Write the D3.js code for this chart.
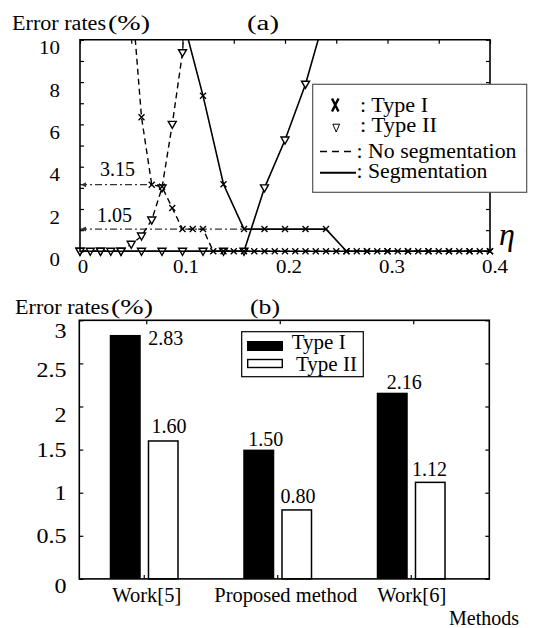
<!DOCTYPE html>
<html><head><meta charset="utf-8">
<script src="https://cdn.jsdelivr.net/npm/d3@7"></script>
<style>
body{margin:0;background:#fff}
text{font-family:"Liberation Serif","Times New Roman",serif;fill:#000}
</style>
</head><body>
<svg id="c" width="534" height="628"></svg>
<script>
// ---------------- data : panel (a) ----------------
const etaNoSegI  = [0.05,0.06,0.07,0.08,0.09,0.10,0.11,0.12,0.13,0.14,0.15,0.16,0.17,0.18,0.19,0.20,0.21,0.22,0.23,0.24,0.25,0.26,0.27,0.28,0.29,0.30,0.31,0.32,0.33,0.34,0.35,0.36,0.37,0.38,0.39,0.40];
const rateNoSegI = [12.4,6.34,3.15,3.05,2.05,1.05,1.05,1.05,0,0,0,0,0,0,0,0,0,0,0,0,0,0,0,0,0,0,0,0,0,0,0,0,0,0,0,0];
const etaNoSegII  = [0,0.01,0.02,0.03,0.04,0.05,0.06,0.07,0.08,0.09,0.10,0.11];
const rateNoSegII = [0,0,0,0,0,0.33,0.72,1.48,3.0,6.0,9.39,17];
const etaSegI  = [0.10,0.12,0.14,0.16,0.18,0.20,0.22,0.24,0.26,0.28,0.30,0.32,0.34,0.36,0.38,0.40];
const rateSegI = [11.05,7.36,3.17,1.05,1.05,1.05,1.05,1.05,0,0,0,0,0,0,0,0];
const etaSegII  = [0,0.02,0.04,0.06,0.08,0.10,0.12,0.14,0.16,0.18,0.20,0.22,0.24];
const rateSegII = [0,0,0,0,0,0,0,0,0,3.0,5.26,7.9,11.3];
const refLevels = [3.15, 1.05];
const refEnds   = [0.07, 0.16];
const refLabels = ["3.15", "1.05"];
const xTicksA = [0, 0.1, 0.2, 0.3, 0.4];
const xTickLabelsA = ["0", "0.1", "0.2", "0.3", "0.4"];
const yTicksA = [0, 2, 4, 6, 8, 10];
const xMinorA = [0,0.05,0.1,0.15,0.2,0.25,0.3,0.35,0.4];
const yMinorA = [0,1,2,3,4,5,6,7,8,9,10];
const legendA = [": Type I", ": Type II", ": No segmentation", ": Segmentation"];

// ---------------- data : panel (b) ----------------
const methods = ["Work[5]", "Proposed method", "Work[6]"];
const typeI  = [2.83, 1.50, 2.16];
const typeII = [1.60, 0.80, 1.12];
const yTicksB = [0, 0.5, 1, 1.5, 2, 2.5, 3];
const yTickLabelsB = ["0", "0.5", "1", "1.5", "2", "2.5", "3"];
const legendB = ["Type I", "Type II"];

// ---------------- helpers ----------------
const svg = d3.select('#c');
function label(g, s, x, y, o = {}) {
  const t = g.append('text')
    .attr('transform', `translate(${x},${y}) scale(${o.sx || 1},1)`)
    .attr('text-anchor', o.anchor || 'start')
    .style('font-size', (o.size || 20) + 'px')
    .text(s);
  if (o.italic) t.style('font-style', 'italic');
  if (o.len) t.attr('textLength', o.len).attr('lengthAdjust', 'spacingAndGlyphs');
  return t;
}
const crossPath = 'M-3,-3L3,3M-3,3L3,-3';
const triPath = 'M-4,-3L4,-3L0,4Z';

// ================= panel (a) =================
const A = {l: 80, r: 490, t: 39.8, b: 251.3};
const xA = d3.scaleLinear([0, 0.4], [A.l, A.r]);
const yA = d3.scaleLinear([0, 10], [A.b, A.t]);
const gA = svg.append('g');

svg.append('defs').append('clipPath').attr('id', 'clipA')
  .append('rect').attr('x', A.l - 6).attr('y', A.t).attr('width', A.r - A.l + 12).attr('height', A.b - A.t + 8);

// titles
label(gA, 'Error rates', 12, 29.5, {size: 20, len: 94});
label(gA, '(%)', 108, 29.5, {size: 20, len: 42});
label(gA, '(a)', 247, 29.5, {size: 20, len: 32});

// reference (dash-dot) lines
const refG = gA.append('g');
refLevels.forEach((v, i) => {
  refG.append('line')
    .attr('x1', A.l).attr('x2', xA(refEnds[i]))
    .attr('y1', yA(v)).attr('y2', yA(v))
    .attr('stroke', '#333').attr('stroke-width', 1.2)
    .attr('stroke-dasharray', '7,3,2,3');
  refG.append('path')
    .attr('d', `M${A.l + 1},${yA(v)}L${A.l + 6},${yA(v) - 2.5}L${A.l + 6},${yA(v) + 2.5}Z`)
    .attr('fill', '#333');
});
label(gA, refLabels[0], A.l + 20, yA(refLevels[0]) - 9, {size: 20});
label(gA, refLabels[1], A.l + 17, yA(refLevels[1]) - 7.5, {size: 20});

// series
const seriesA = [
  {eta: etaNoSegII, v: rateNoSegII, dashed: true,  type: 'II'},
  {eta: etaSegII,   v: rateSegII,   dashed: false, type: 'II'},
  {eta: etaNoSegI,  v: rateNoSegI,  dashed: true,  type: 'I'},
  {eta: etaSegI,    v: rateSegI,    dashed: false, type: 'I'}
];
const plotA = gA.append('g').attr('clip-path', 'url(#clipA)');
const lineA = d3.line().x(d => xA(d[0])).y(d => yA(d[1]));
seriesA.forEach(s => {
  const pts = s.eta.map((e, i) => [e, s.v[i]]);
  plotA.append('path').attr('d', lineA(pts))
    .attr('fill', 'none').attr('stroke', '#000')
    .attr('stroke-width', s.dashed ? 1.4 : 1.6)
    .attr('stroke-dasharray', s.dashed ? '6,4' : null);
});
seriesA.forEach(s => {
  const pts = s.eta.map((e, i) => [e, s.v[i]]);
  plotA.append('g').selectAll('path').data(pts).join('path')
    .attr('transform', d => `translate(${xA(d[0])},${yA(d[1])})`)
    .attr('d', s.type === 'I' ? crossPath : triPath)
    .attr('fill', s.type === 'I' ? 'none' : '#fff')
    .attr('stroke', '#000')
    .attr('stroke-width', s.type === 'I' ? 1.4 : 1.4);
});

// axes / ticks
gA.append('g').attr('transform', `translate(${A.l},0)`)
  .call(d3.axisLeft(yA).tickValues(yMinorA).tickSize(-4).tickFormat(''))
  .call(g => { g.select('.domain').remove(); g.selectAll('line').attr('stroke-width', 1.2); });
gA.append('g').attr('transform', `translate(${A.r},0)`)
  .call(d3.axisRight(yA).tickValues(yMinorA).tickSize(-4).tickFormat(''))
  .call(g => { g.select('.domain').remove(); g.selectAll('line').attr('stroke-width', 1.2); });
gA.append('g').attr('transform', `translate(0,${A.t})`)
  .call(d3.axisTop(xA).tickValues(xMinorA).tickSize(-4).tickFormat(''))
  .call(g => { g.select('.domain').remove(); g.selectAll('line').attr('stroke-width', 1.2); });
gA.append('path')
  .attr('d', `M${A.l},${A.b}V${A.t}H${A.r}V${A.b}Z`)
  .attr('fill', 'none').attr('stroke', '#000').attr('stroke-width', 1.6);

yTicksA.forEach(v => label(gA, String(v), A.l - 20, yA(v) + 14.5, {size: 19, anchor: 'end', sx: 1.1}));
xTicksA.forEach((v, i) => label(gA, xTickLabelsA[i], xA(v) + 3 + v * 5, A.b + 22, {size: 19, anchor: 'middle', sx: 1.1}));
label(gA, 'η', 499, 245, {size: 32, italic: true});

// legend (a)
const LA = gA.append('g');
LA.append('rect').attr('x', 312.7).attr('y', 84.3).attr('width', 214).attr('height', 108)
  .attr('fill', '#fff').attr('stroke', '#555').attr('stroke-width', 1.2);
LA.append('path').attr('d', 'M332,98.5L338.5,111.5M338.5,98.5L332,111.5')
  .attr('stroke', '#000').attr('stroke-width', 2.4);
LA.append('path').attr('d', 'M332.8,124.2L339.6,124.2L336.2,132Z')
  .attr('fill', '#fff').attr('stroke', '#000').attr('stroke-width', 1);
LA.append('line').attr('x1', 320).attr('x2', 356).attr('y1', 151.5).attr('y2', 151.5)
  .attr('stroke', '#000').attr('stroke-width', 1.5).attr('stroke-dasharray', '7,5');
LA.append('line').attr('x1', 320).attr('x2', 356).attr('y1', 172.7).attr('y2', 172.7)
  .attr('stroke', '#000').attr('stroke-width', 2);
label(LA, legendA[0], 360, 111.5, {size: 20, len: 68});
label(LA, legendA[1], 360, 132, {size: 20, len: 77});
label(LA, legendA[2], 356.5, 157.5, {size: 20, len: 160});
label(LA, legendA[3], 356.5, 178, {size: 20, len: 131});

// ================= panel (b) =================
const B = {l: 79.3, r: 489.3, t: 320.3, b: 578.9};
const xB = d3.scaleBand(methods, [77.5, 478]);
const xs = d3.scaleBand(['I', 'II'], [-34.5, 34.5]).paddingInner(0.184);
const yB = d3.scaleLinear([0, 3], [B.b, B.t]);
const gB = svg.append('g');

label(gB, 'Error rates', 15, 313.5, {size: 20, len: 94});
label(gB, '(%)', 111, 313.5, {size: 20, len: 42});
label(gB, '(b)', 250, 313.5, {size: 20, len: 30});

const cx = m => xB(m) + xB.bandwidth() / 2;
// bars
gB.append('g').selectAll('rect').data(methods).join('rect')
  .attr('x', m => cx(m) + xs('I')).attr('width', xs.bandwidth())
  .attr('y', (m, i) => yB(typeI[i])).attr('height', (m, i) => B.b - yB(typeI[i]))
  .attr('fill', '#000');
gB.append('g').selectAll('rect').data(methods).join('rect')
  .attr('x', m => cx(m) + xs('II') + 0.75).attr('width', xs.bandwidth() - 1.5)
  .attr('y', (m, i) => yB(typeII[i])).attr('height', (m, i) => B.b - yB(typeII[i]))
  .attr('fill', '#fff').attr('stroke', '#000').attr('stroke-width', 1.5);

// value labels
const nudgeI  = [[0, 10], [7, -3.6], [12, -3.7]];
const nudgeII = [[5.8, -8.3], [1.3, -7.2], [-0.7, -6.4]];
methods.forEach((m, i) => {
  const bI = cx(m) + xs('I'), bII = cx(m) + xs('II');
  if (i === 0) {
    label(gB, typeI[i].toFixed(2), bI + xs.bandwidth() + 7.6, yB(typeI[i]) + nudgeI[i][1], {size: 20});
  } else {
    label(gB, typeI[i].toFixed(2), bI + xs.bandwidth() / 2 + nudgeI[i][0], yB(typeI[i]) + nudgeI[i][1], {size: 20, anchor: 'middle'});
  }
  label(gB, typeII[i].toFixed(2), bII + xs.bandwidth() / 2 + nudgeII[i][0], yB(typeII[i]) + nudgeII[i][1], {size: 20, anchor: 'middle'});
});

// axes / ticks
gB.append('g').attr('transform', `translate(${B.l},0)`)
  .call(d3.axisLeft(yB).tickValues(yTicksB).tickSize(-4).tickFormat(''))
  .call(g => { g.select('.domain').remove(); g.selectAll('line').attr('stroke-width', 1.2); });
gB.append('g').attr('transform', `translate(${B.r},0)`)
  .call(d3.axisRight(yB).tickValues(yTicksB).tickSize(-4).tickFormat(''))
  .call(g => { g.select('.domain').remove(); g.selectAll('line').attr('stroke-width', 1.2); });
gB.append('g').attr('transform', `translate(2.5,${B.t})`)
  .call(d3.axisTop(xB).tickSize(-4).tickFormat(''))
  .call(g => { g.select('.domain').remove(); g.selectAll('line').attr('stroke-width', 1.2); });
gB.append('g').attr('transform', `translate(0,${B.b})`)
  .call(d3.axisBottom(xB).tickSize(-4).tickFormat(''))
  .call(g => { g.select('.domain').remove(); g.selectAll('line').attr('stroke-width', 1.2); });
gB.append('rect').attr('x', B.l).attr('y', B.t).attr('width', B.r - B.l).attr('height', B.b - B.t)
  .attr('fill', 'none').attr('stroke', '#000').attr('stroke-width', 1.6);

const yLabNudge = {3: 17.5, 2.5: 14, 2: 15.2, 1.5: 7.1, 1: 7.3, 0.5: 7.2, 0: 14.4};
yTicksB.forEach((v, i) => label(gB, yTickLabelsB[i], 66.5, yB(v) + yLabNudge[v], {size: 20, anchor: 'end', sx: 1.2}));
const xLabNudge = [2.5, 8, 0.5];
methods.forEach((m, i) => label(gB, m, cx(m) + xLabNudge[i], 601.5, {size: 20.5, anchor: 'middle'}));
label(gB, 'Methods', 449, 625, {size: 20});

// legend (b)
const LB = gB.append('g');
LB.append('rect').attr('x', 241.7).attr('y', 331.7).attr('width', 121.6).attr('height', 45)
  .attr('fill', '#fff').attr('stroke', '#000').attr('stroke-width', 1.2);
LB.append('rect').attr('x', 247).attr('y', 341).attr('width', 36).attr('height', 10).attr('fill', '#000');
LB.append('rect').attr('x', 247.7).attr('y', 359.5).attr('width', 34.6).attr('height', 8)
  .attr('fill', '#fff').attr('stroke', '#000').attr('stroke-width', 1.4);
label(LB, legendB[0], 291.7, 348.5, {size: 21});
label(LB, legendB[1], 296, 370.5, {size: 21});
</script>
</body></html>
